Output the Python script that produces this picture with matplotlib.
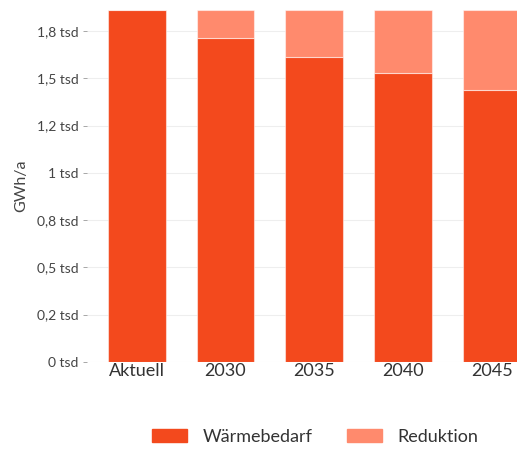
import matplotlib
matplotlib.use("Agg")
import matplotlib.pyplot as plt
from matplotlib.ticker import FixedLocator, FixedFormatter
from matplotlib.patches import Patch

categories = ["Aktuell", "2030", "2035", "2040", "2045"]
waermebedarf = [1862, 1714, 1612, 1529, 1437]
reduktion = [0, 148, 250, 333, 425]
ytick_values = [0, 250, 500, 750, 1000, 1250, 1500, 1750]
ytick_labels = ["0 tsd", "0,2 tsd", "0,5 tsd", "0,8 tsd", "1 tsd", "1,2 tsd", "1,5 tsd", "1,8 tsd"]

plt.rcParams['font.family'] = ['Lato', 'DejaVu Sans']

c_w = "#F3491D"
c_r = "#FF8A6D"

fig = plt.figure(figsize=(5.17, 4.49), dpi=100)
ax = fig.add_axes([0.168, 0.1944, 0.832, 0.7836])

x = list(range(len(categories)))
ax.bar(x, waermebedarf, width=0.65, color=c_w, edgecolor=(1, 1, 1, 0.5), linewidth=0.8, zorder=3)
ax.bar(x, reduktion, bottom=waermebedarf, width=0.65, color=c_r, edgecolor=(1, 1, 1, 0.5), linewidth=0.8, zorder=3)

ax.set_xlim(-0.56, 4.28)
ax.set_ylim(0, 1863)
ax.yaxis.set_major_locator(FixedLocator(ytick_values))
ax.yaxis.set_major_formatter(FixedFormatter(ytick_labels))
ax.set_xticks(x)
ax.set_xticklabels(categories, fontsize=13, color="#333333")
ax.tick_params(axis='x', length=0, pad=1)
ax.tick_params(axis='y', length=3, width=0.6, color="#999999", labelsize=10, labelcolor="#444444", pad=3)
ax.grid(axis='y', color="#eeeeee", linewidth=0.8, zorder=0)
for s in ax.spines.values():
    s.set_visible(False)
ax.set_ylabel("GWh/a", fontsize=11.5, color="#444444", labelpad=6)

handles = [Patch(color=c_w, label="Wärmebedarf"), Patch(color=c_r, label="Reduktion")]
fig.legend(handles=handles, loc="center", bbox_to_anchor=(0.61, 0.027), ncol=2, frameon=False,
           fontsize=13, handlelength=1.95, handleheight=0.75, columnspacing=1.9, handletextpad=0.85,
           labelcolor="#333333")

fig.savefig("out.png", dpi=100)
